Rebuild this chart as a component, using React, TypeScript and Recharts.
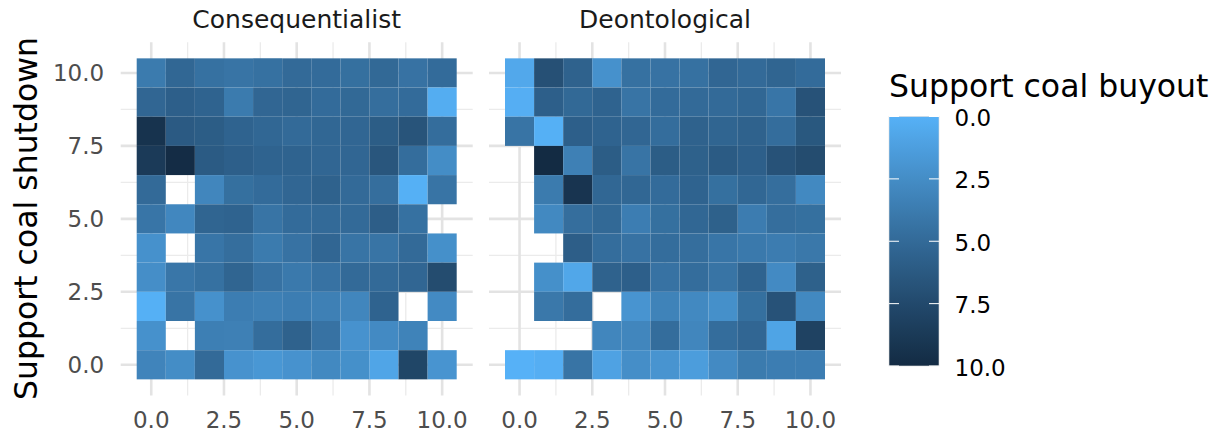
import React from 'react';
import { ScatterChart, Scatter, XAxis, YAxis, CartesianGrid, ReferenceArea } from 'recharts';

// ---------- data ----------
const xValues = [0, 1, 2, 3, 4, 5, 6, 7, 8, 9, 10];
const yValuesTopDown = [10, 9, 8, 7, 6, 5, 4, 3, 2, 1, 0];
const axisTicks = [0, 2.5, 5, 7.5, 10];
const minorTicks = [1.25, 3.75, 6.25, 8.75];
const legendBreaks = [0, 2.5, 5, 7.5, 10];
const facetLabels = ['Consequentialist', 'Deontological'];
const xTitle = '';
const yTitle = 'Support coal shutdown';
const fillTitle = 'Support coal buyout';

// rows from y = 10 (top) to y = 0 (bottom); columns x = 0..10
const consequentialist: (number | null)[][] = [
  [3.8, 5.2, 4.5, 4.3, 4.5, 5.0, 4.9, 4.6, 5.1, 4.4, 4.9],
  [5.3, 5.8, 5.5, 3.8, 5.3, 5.4, 4.9, 5.1, 4.7, 4.9, 0.3],
  [9.3, 6.2, 6.0, 5.5, 5.2, 5.0, 5.2, 5.3, 6.0, 6.7, 4.8],
  [8.7, 9.9, 6.1, 5.8, 5.5, 5.5, 5.3, 5.3, 6.5, 4.8, 2.5],
  [5.0, null, 3.0, 4.6, 4.9, 5.3, 5.6, 5.0, 4.7, 0.1, 4.3],
  [4.2, 2.9, 5.4, 5.5, 4.3, 4.9, 5.0, 5.0, 5.9, 4.5, null],
  [2.2, null, 4.2, 4.7, 3.8, 4.4, 5.3, 4.3, 4.3, 5.0, 2.3],
  [2.4, 4.1, 4.5, 5.4, 4.4, 3.9, 4.4, 5.0, 5.0, 5.3, 7.3],
  [0.1, 4.3, 2.2, 3.6, 3.4, 3.6, 3.4, 3.0, 5.5, null, 2.7],
  [2.2, null, 3.5, 3.4, 4.8, 5.6, 4.4, 2.1, 2.7, 3.2, null],
  [3.1, 2.5, 5.0, 2.1, 1.8, 2.1, 2.8, 2.3, 0.8, 7.8, 2.0],
];

const deontological: (number | null)[][] = [
  [0.6, 7.0, 5.6, 2.2, 4.5, 4.4, 4.5, 5.3, 5.0, 5.4, 4.9],
  [0.2, 5.8, 5.1, 5.5, 4.3, 4.9, 5.0, 5.0, 5.2, 4.2, 6.8],
  [4.3, 0.1, 5.8, 5.5, 5.3, 4.8, 5.6, 5.4, 5.6, 4.8, 6.4],
  [null, 10.0, 3.4, 6.0, 4.3, 6.0, 5.7, 6.1, 5.8, 6.8, 7.3],
  [null, 3.8, 9.2, 5.2, 5.2, 4.9, 5.5, 4.6, 5.2, 4.7, 2.8],
  [null, 2.8, 4.7, 5.1, 3.6, 4.6, 5.2, 5.7, 3.7, 4.7, 4.6],
  [null, null, 5.9, 4.8, 4.4, 4.8, 4.7, 4.2, 3.9, 3.7, 4.0],
  [null, 2.3, 0.7, 5.6, 5.8, 4.4, 4.8, 4.3, 5.5, 2.7, 5.7],
  [null, 4.0, 4.8, null, 2.0, 3.2, 2.8, 2.3, 4.6, 6.8, 2.8],
  [null, null, null, 3.0, 3.0, 4.8, 3.0, 4.8, 5.3, 0.9, 8.1],
  [0.0, 0.2, 4.3, 1.0, 2.4, 2.0, 1.4, 2.7, 3.8, 3.6, 3.6],
];

// ---------- colour scale (ggplot2 default gradient, Lab interpolation, reversed) ----------
const LOW_HEX = '#56B1F7'; // value 0
const HIGH_HEX = '#132B43'; // value 10
const SCALE_MIN = 0;
const SCALE_MAX = 10;

function hexToRgb(h: string): number[] {
  const s = h.replace('#', '');
  return [0, 2, 4].map((i) => parseInt(s.slice(i, i + 2), 16));
}
function lin(c: number) {
  const v = c / 255;
  return v <= 0.04045 ? v / 12.92 : Math.pow((v + 0.055) / 1.055, 2.4);
}
function unlin(v: number) {
  const c = v <= 0.0031308 ? 12.92 * v : 1.055 * Math.pow(v, 1 / 2.4) - 0.055;
  return Math.max(0, Math.min(255, Math.round(c * 255)));
}
const XN = 0.95047, YN = 1.0, ZN = 1.08883;
function rgbToLab(rgb: number[]): number[] {
  const [R, G, B] = rgb.map(lin);
  const X = (0.4124564 * R + 0.3575761 * G + 0.1804375 * B) / XN;
  const Y = (0.2126729 * R + 0.7151522 * G + 0.072175 * B) / YN;
  const Z = (0.0193339 * R + 0.119192 * G + 0.9503041 * B) / ZN;
  const f = (t: number) => (t > 0.008856 ? Math.cbrt(t) : 7.787 * t + 16 / 116);
  return [116 * f(Y) - 16, 500 * (f(X) - f(Y)), 200 * (f(Y) - f(Z))];
}
function labToHex(lab: number[]): string {
  const [L, a, b] = lab;
  const fy = (L + 16) / 116;
  const fx = fy + a / 500;
  const fz = fy - b / 200;
  const inv = (t: number) => (t * t * t > 0.008856 ? t * t * t : (t - 16 / 116) / 7.787);
  const X = inv(fx) * XN, Y = inv(fy) * YN, Z = inv(fz) * ZN;
  const R = 3.2404542 * X - 1.5371385 * Y - 0.4985314 * Z;
  const G = -0.969266 * X + 1.8760108 * Y + 0.041556 * Z;
  const B = 0.0556434 * X - 0.2040259 * Y + 1.0572252 * Z;
  return '#' + [R, G, B].map((v) => unlin(v).toString(16).padStart(2, '0')).join('');
}
const LAB_LOW = rgbToLab(hexToRgb(LOW_HEX));
const LAB_HIGH = rgbToLab(hexToRgb(HIGH_HEX));
function colorFor(v: number): string {
  const t = Math.max(0, Math.min(1, (v - SCALE_MIN) / (SCALE_MAX - SCALE_MIN)));
  return labToHex(LAB_LOW.map((c, i) => c + (LAB_HIGH[i] - c) * t));
}

// ---------- styling ----------
const FONT = '"DejaVu Sans", Verdana, sans-serif';
const DOMAIN: [number, number] = [-1.05, 11.05];
const CHART_H = 437;
const fmt = (v: number) => v.toFixed(1);

type Pt = { x: number; y: number; v: number };
function toPoints(values: (number | null)[][]): Pt[] {
  const pts: Pt[] = [];
  values.forEach((row, ri) =>
    row.forEach((v, ci) => {
      if (v !== null && v !== undefined) pts.push({ x: xValues[ci], y: yValuesTopDown[ri], v });
    })
  );
  return pts;
}

function Panel(props: {
  values: (number | null)[][];
  showY: boolean;
  width: number;
  margin: { top: number; right: number; bottom: number; left: number };
}) {
  const pts = toPoints(props.values);
  return (
    <ScatterChart width={props.width} height={CHART_H} margin={props.margin}>
      <CartesianGrid
        stroke="#EBEBEB"
        strokeWidth={1.3}
        horizontalValues={minorTicks}
        verticalValues={minorTicks}
        fill="none"
      />
      <CartesianGrid
        stroke="#E3E3E3"
        strokeWidth={2.6}
        horizontalValues={axisTicks}
        verticalValues={axisTicks}
        fill="none"
      />
      <XAxis
        type="number"
        dataKey="x"
        domain={DOMAIN}
        ticks={axisTicks}
        interval={0}
        tickFormatter={fmt}
        axisLine={false}
        tickLine={false}
        tickSize={0}
        tickMargin={16}
        height={30}
        allowDataOverflow
        tick={{ fill: '#4D4D4D', fontSize: 23, fontFamily: FONT }}
      />
      <YAxis
        type="number"
        dataKey="y"
        domain={DOMAIN}
        ticks={axisTicks}
        interval={0}
        tickFormatter={fmt}
        axisLine={false}
        tickLine={false}
        tickSize={0}
        tickMargin={16.5}
        width={60}
        hide={!props.showY}
        allowDataOverflow
        tick={{ fill: '#4D4D4D', fontSize: 23, fontFamily: FONT }}
      />
      {pts.map((p) => (
        <ReferenceArea
          key={`${p.x}-${p.y}`}
          x1={p.x - 0.5}
          x2={p.x + 0.5}
          y1={p.y - 0.5}
          y2={p.y + 0.5}
          fill={colorFor(p.v)}
          fillOpacity={1}
          stroke="none"
          ifOverflow="visible"
        />
      ))}
      <Scatter data={pts} isAnimationActive={false} shape={() => <g />} />
    </ScatterChart>
  );
}

function Overlay() {
  const barX = 889;
  const barY = 116.5;
  const barW = 50;
  const barH = 249.5;
  const stops: number[] = [];
  for (let v = SCALE_MIN; v <= SCALE_MAX + 1e-9; v += 0.5) stops.push(v);
  const yOf = (v: number) => barY + ((v - SCALE_MIN) / (SCALE_MAX - SCALE_MIN)) * barH;
  return (
    <svg
      width={1222}
      height={437}
      style={{ position: 'absolute', left: 0, top: 0, pointerEvents: 'none' }}
      fontFamily={FONT}
    >
      <defs>
        <linearGradient id="fillgrad" x1="0" y1="0" x2="0" y2="1">
          {stops.map((v) => (
            <stop key={v} offset={`${((v - SCALE_MIN) / (SCALE_MAX - SCALE_MIN)) * 100}%`} stopColor={colorFor(v)} />
          ))}
        </linearGradient>
      </defs>
      {/* facet strips */}
      <text x={296.7} y={28.3} textAnchor="middle" fontSize={25} fill="#1A1A1A">
        {facetLabels[0]}
      </text>
      <text x={665} y={28.3} textAnchor="middle" fontSize={25} fill="#1A1A1A">
        {facetLabels[1]}
      </text>
      {/* y title */}
      <text
        x={36.5}
        y={218.5}
        transform="rotate(-90 36.5 218.5)"
        textAnchor="middle"
        fontSize={31.5}
        fill="#000"
      >
        {yTitle}
      </text>
      {xTitle ? null : null}
      {/* legend */}
      <text x={889} y={96.7} fontSize={31.5} fill="#000">
        {fillTitle}
      </text>
      <rect x={barX} y={barY} width={barW} height={barH} fill="url(#fillgrad)" stroke="#DDDDDD" strokeWidth={0.6} />
      {legendBreaks.map((b) => (
        <g key={b}>
          <line x1={barX} x2={barX + 10} y1={yOf(b)} y2={yOf(b)} stroke="#FFFFFF" strokeWidth={1} />
          <line x1={barX + barW - 10} x2={barX + barW} y1={yOf(b)} y2={yOf(b)} stroke="#FFFFFF" strokeWidth={1} />
          <text x={954.5} y={yOf(b) + 9.5} fontSize={23} fill="#000">
            {fmt(b)}
          </text>
        </g>
      ))}
    </svg>
  );
}

export default function App() {
  return (
    <div style={{ position: 'absolute', left: 0, top: 0, width: 1222, height: 437, background: '#fff' }}>
      <div style={{ position: 'absolute', left: 0, top: 0 }}>
        <Panel
          values={consequentialist}
          showY={true}
          width={480}
          margin={{ top: 42.3, right: 7.3, bottom: 11.6, left: 60.7 }}
        />
      </div>
      <div style={{ position: 'absolute', left: 480, top: 0 }}>
        <Panel
          values={deontological}
          showY={false}
          width={370}
          margin={{ top: 42.3, right: 9, bottom: 11.6, left: 9 }}
        />
      </div>
      <Overlay />
    </div>
  );
}
